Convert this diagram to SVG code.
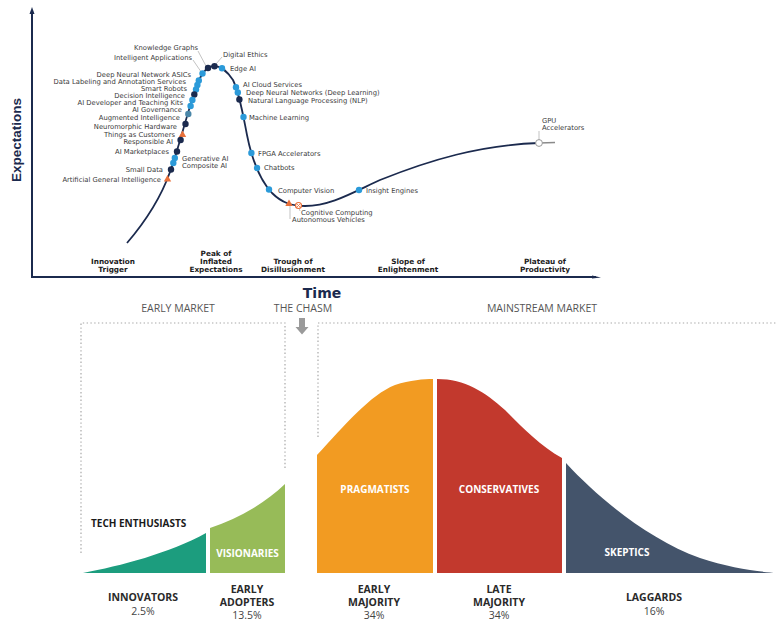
<svg xmlns="http://www.w3.org/2000/svg" width="777" height="620" viewBox="0 0 777 620">
<style>
.lbl{font-family:"DejaVu Sans","Liberation Sans",sans-serif;font-size:6.8px;fill:#3a3a3a}
.e{text-anchor:end}
.ph{font-family:"DejaVu Sans","Liberation Sans",sans-serif;font-size:7.3px;font-weight:bold;fill:#1c1c1c;text-anchor:middle}
.lb{fill:#2b9ad9}
.dk{fill:#1b2a4e}
.st{fill:#4a86a8}
.or{fill:#e8703a}
.lead{stroke:#9a9a9a;stroke-width:0.6;fill:none}
.hd{font-family:"Open Sans","Liberation Sans",sans-serif;font-size:10.5px;fill:#555;text-anchor:middle}
.cat{font-family:"Open Sans","Liberation Sans",sans-serif;font-size:10.5px;font-weight:bold;fill:#2a2a2a;text-anchor:middle}
.pct{font-family:"Open Sans","Liberation Sans",sans-serif;font-size:10.5px;fill:#444;text-anchor:middle}
.inl{font-family:"Open Sans","Liberation Sans",sans-serif;font-size:10px;font-weight:bold;fill:#fff;text-anchor:middle}
.dot{fill:none;stroke:#a8a8a8;stroke-width:1.2;stroke-dasharray:1.4 2.4}
</style>
<rect width="777" height="620" fill="#fff"/>

<g id="axes">
<line x1="32" y1="12" x2="32" y2="277" stroke="#1b2a4e" stroke-width="2"/>
<polygon points="32,7 29.5,14 34.5,14" fill="#1b2a4e"/>
<line x1="31" y1="277" x2="596" y2="277" stroke="#1b2a4e" stroke-width="2"/>
<polygon points="601,277.5 592,275.5 592,278.5" fill="#1b2a4e"/>
<text x="21" y="140" transform="rotate(-90 21 140)" text-anchor="middle" font-family="Liberation Sans,Arial,sans-serif" font-size="13.5" font-weight="bold" fill="#1b2a4e">Expectations</text>
<text x="322" y="298" text-anchor="middle" font-family="DejaVu Sans,sans-serif" font-size="14" font-weight="bold" fill="#1b2a4e">Time</text>
</g>

<g id="phases">
<text class="ph" x="113" y="264">Innovation</text><text class="ph" x="113" y="272">Trigger</text>
<text class="ph" x="216" y="256">Peak of</text><text class="ph" x="216" y="264">Inflated</text><text class="ph" x="216" y="272">Expectations</text>
<text class="ph" x="293" y="264">Trough of</text><text class="ph" x="293" y="272">Disillusionment</text>
<text class="ph" x="408" y="264">Slope of</text><text class="ph" x="408" y="272">Enlightenment</text>
<text class="ph" x="545" y="264">Plateau of</text><text class="ph" x="545" y="272">Productivity</text>
</g>

<g id="connectors">
<path d="M127,243 C145,222 160,200 170,172 C180,145 190,100 200,78 C204,70 209,66 214,66 C221,66 227,71 233,80 C240,95 243,115 247,135 C252,160 260,180 272,193 C282,203 292,206 305,206 C330,206 350,194 380,180 C430,160 480,145 539,143" fill="none" stroke="#1b2a4e" stroke-width="1.8"/>
<line x1="539" y1="143" x2="555" y2="142.5" stroke="#8a8a8a" stroke-width="1.6"/>
<line class="lead" x1="198" y1="51" x2="206" y2="66"/>
<line class="lead" x1="193" y1="60" x2="200.5" y2="71"/>
<line class="lead" x1="222" y1="57" x2="216" y2="64"/>
<line class="lead" x1="290" y1="205" x2="290" y2="219"/>
<line class="lead" x1="299" y1="208" x2="300" y2="211"/>
<line class="lead" x1="539" y1="131" x2="539" y2="140"/>
</g>

<g id="n-knowledge-graphs"><circle class="dk" cx="208" cy="68" r="3.2"/><text class="lbl e" x="198" y="49.5">Knowledge Graphs</text></g>
<g id="n-intelligent-applications"><circle class="lb" cx="202.5" cy="73.5" r="3.2"/><text class="lbl e" x="192" y="59.5">Intelligent Applications</text></g>
<g id="n-digital-ethics"><circle class="dk" cx="214.5" cy="66.3" r="3.2"/><text class="lbl" x="223" y="56.5">Digital Ethics</text></g>
<g id="n-edge-ai"><circle class="lb" cx="222" cy="68.3" r="3.2"/><text class="lbl" x="230" y="70.5">Edge AI</text></g>
<g id="n-dnn-asics"><circle class="lb" cx="198.8" cy="80.5" r="3.2"/><text class="lbl e" x="191" y="77">Deep Neural Network ASICs</text></g>
<g id="n-data-labeling"><circle class="lb" cx="197.4" cy="85" r="3.2"/><text class="lbl e" x="186" y="84">Data Labeling and Annotation Services</text></g>
<g id="n-smart-robots"><circle class="lb" cx="196" cy="89.5" r="3.2"/><text class="lbl e" x="187" y="91">Smart Robots</text></g>
<g id="n-decision-intelligence"><circle class="dk" cx="194.3" cy="94.5" r="3.2"/><text class="lbl e" x="185" y="98">Decision Intelligence</text></g>
<g id="n-ai-dev-kits"><circle class="lb" cx="192.4" cy="100" r="3.2"/><text class="lbl e" x="183" y="105">AI Developer and Teaching Kits</text></g>
<g id="n-ai-governance"><circle class="lb" cx="190.6" cy="106" r="3.2"/><text class="lbl e" x="182" y="112">AI Governance</text></g>
<g id="n-augmented-intelligence"><circle class="st" cx="188.3" cy="114" r="3.2"/><text class="lbl e" x="180" y="119.5">Augmented Intelligence</text></g>
<g id="n-neuromorphic"><circle class="dk" cx="185.5" cy="124" r="3.2"/><text class="lbl e" x="177" y="128.5">Neuromorphic Hardware</text></g>
<g id="n-things-customers"><polygon class="or" points="182.5,130.5 178.8,137 186.2,137"/><text class="lbl e" x="175" y="136.5">Things as Customers</text></g>
<g id="n-responsible-ai"><circle class="dk" cx="180.6" cy="140" r="3.2"/><text class="lbl e" x="173" y="143.5">Responsible AI</text></g>
<g id="n-ai-marketplaces"><circle class="dk" cx="177" cy="151.5" r="3.2"/><text class="lbl e" x="169" y="153.5">AI Marketplaces</text></g>
<g id="n-generative-ai"><circle class="lb" cx="174.8" cy="158" r="3.2"/><text class="lbl" x="182" y="160.5">Generative AI</text></g>
<g id="n-composite-ai"><circle class="lb" cx="173.3" cy="163" r="3.2"/><text class="lbl" x="182" y="168">Composite AI</text></g>
<g id="n-small-data"><circle class="dk" cx="171" cy="169.5" r="3.2"/><text class="lbl e" x="163" y="172">Small Data</text></g>
<g id="n-agi"><polygon class="or" points="167.5,175 163.8,181.5 171.2,181.5"/><text class="lbl e" x="161" y="181.5">Artificial General Intelligence</text></g>
<g id="n-ai-cloud"><circle class="lb" cx="236" cy="87.2" r="3.2"/><text class="lbl" x="243" y="87">AI Cloud Services</text></g>
<g id="n-deep-learning"><circle class="lb" cx="237.8" cy="92.5" r="3.2"/><text class="lbl" x="246" y="95">Deep Neural Networks (Deep Learning)</text></g>
<g id="n-nlp"><circle class="dk" cx="239.4" cy="99.5" r="3.2"/><text class="lbl" x="248" y="102.5">Natural Language Processing (NLP)</text></g>
<g id="n-machine-learning"><circle class="lb" cx="243.5" cy="117" r="3.2"/><text class="lbl" x="249" y="119.5">Machine Learning</text></g>
<g id="n-fpga"><circle class="lb" cx="251.4" cy="153" r="3.2"/><text class="lbl" x="258" y="155.5">FPGA Accelerators</text></g>
<g id="n-chatbots"><circle class="lb" cx="257" cy="168" r="3.2"/><text class="lbl" x="264" y="169.5">Chatbots</text></g>
<g id="n-computer-vision"><circle class="lb" cx="269" cy="189.5" r="3.2"/><text class="lbl" x="278" y="193">Computer Vision</text></g>
<g id="n-insight-engines"><circle class="lb" cx="359" cy="190" r="3.2"/><text class="lbl" x="366" y="193">Insight Engines</text></g>
<g id="n-autonomous-vehicles"><polygon class="or" points="289,199.5 285.3,206 292.7,206"/><text class="lbl" x="292" y="222">Autonomous Vehicles</text></g>
<g id="n-cognitive-computing"><circle cx="298.5" cy="205.5" r="3" fill="#fff" stroke="#e8703a" stroke-width="1.2"/><path d="M296.5,203.5 L300.5,207.5 M300.5,203.5 L296.5,207.5" stroke="#e8703a" stroke-width="0.8"/><text class="lbl" x="301" y="214.5">Cognitive Computing</text></g>
<g id="n-gpu"><circle cx="539" cy="143" r="3.4" fill="#fff" stroke="#999" stroke-width="1"/><text class="lbl" x="542" y="123">GPU</text><text class="lbl" x="542" y="130">Accelerators</text></g>

<g id="market-frames">
<text class="hd" x="178" y="312">EARLY MARKET</text>
<text class="hd" x="303" y="312">THE CHASM</text>
<text class="hd" x="542" y="312">MAINSTREAM MARKET</text>
<path class="dot" d="M81,553 L81,323 L285,323 L285,470"/>
<path class="dot" d="M318,437 L318,323 L776,323"/>
<polygon points="299,318 305,318 305,327 308.5,327 302,334.5 295.5,327 299,327" fill="#9a9a9a"/>
</g>

<g id="s-innovators">
<path d="M83,573 C120,566 170,553 206,533 L206,573 Z" fill="#1c9d7e"/>
<text x="91" y="527" font-family="Open Sans,Liberation Sans,sans-serif" font-size="10" font-weight="bold" fill="#1a1a1a">TECH ENTHUSIASTS</text>
<text class="cat" x="143" y="601">INNOVATORS</text><text class="pct" x="143" y="615">2.5%</text>
</g>
<g id="s-early-adopters">
<path d="M210,573 L210,528 C240,518 265,503 285,484 L285,573 Z" fill="#97bb58"/>
<text class="inl" x="247.5" y="557">VISIONARIES</text>
<text class="cat" x="247" y="593">EARLY</text><text class="cat" x="247" y="606">ADOPTERS</text><text class="pct" x="247" y="618.5">13.5%</text>
</g>
<g id="s-early-majority">
<path d="M317,573 L317,455 C345,425 370,395 395,385 C410,380 424,379 433,379 L433,573 Z" fill="#f29b22"/>
<text class="inl" x="375" y="493">PRAGMATISTS</text>
<text class="cat" x="374" y="593">EARLY</text><text class="cat" x="374" y="606">MAJORITY</text><text class="pct" x="374" y="618.5">34%</text>
</g>
<g id="s-late-majority">
<path d="M437,573 L437,379 C465,379 485,392 505,410 C520,425 540,446 562,458 L562,573 Z" fill="#c2392d"/>
<text class="inl" x="499" y="493">CONSERVATIVES</text>
<text class="cat" x="499" y="593">LATE</text><text class="cat" x="499" y="606">MAJORITY</text><text class="pct" x="499" y="618.5">34%</text>
</g>
<g id="s-laggards">
<path d="M566,573 L566,463 C600,500 650,540 700,558 C730,568 760,572 777,573 Z" fill="#44546b"/>
<text class="inl" x="627" y="556">SKEPTICS</text>
<text class="cat" x="654" y="601">LAGGARDS</text><text class="pct" x="654" y="615">16%</text>
</g>
</svg>
